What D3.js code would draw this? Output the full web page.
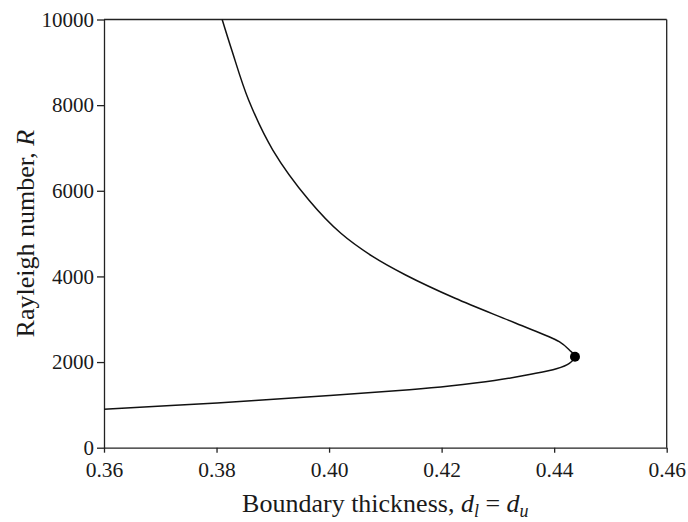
<!DOCTYPE html>
<html>
<head>
<meta charset="utf-8">
<script src="https://cdn.jsdelivr.net/npm/d3@7"></script>
<style>
  html, body { margin: 0; padding: 0; background: #fff; }
  svg { display: block; }
  svg text { font-family: "Liberation Serif", "DejaVu Serif", serif; fill: #1a1a1a; }
</style>
</head>
<body>
<svg id="chart" width="688" height="522"></svg>
<script>
// Data: neutral stability curve (boundary thickness d vs Rayleigh number R)
const upperBranchD = [0.3810, 0.3827, 0.3857, 0.3900, 0.3964, 0.4021, 0.4078, 0.4136, 0.4224, 0.4332, 0.4409, 0.4427, 0.4437];
const upperBranchR = [10000, 9288, 8120, 6952, 5785, 5007, 4461, 4033, 3489, 2905, 2475, 2282, 2125];
const lowerBranchD = [0.4427, 0.4404, 0.4356, 0.4294, 0.4214, 0.4143, 0.4001, 0.3801, 0.3600];
const lowerBranchR = [1971, 1843, 1709, 1569, 1441, 1354, 1217, 1046, 899];
const criticalD = [0.4437];
const criticalR = [2125];
const xTicks = [0.36, 0.38, 0.40, 0.42, 0.44, 0.46];
const yTicks = [0, 2000, 4000, 6000, 8000, 10000];
const xDomain = [0.36, 0.46];
const yDomain = [0, 10000];

const margin = { left: 104, top: 19.5, right: 688 - 666.7, bottom: 522 - 447.7 };
const W = 688, H = 522;
const iw = W - margin.left - margin.right;
const ih = H - margin.top - margin.bottom;
const SERIF = "Liberation Serif, DejaVu Serif, serif";

const svg = d3.select("#chart");
const g = svg.append("g").attr("transform", `translate(${margin.left},${margin.top})`);

const x = d3.scaleLinear().domain(xDomain).range([0, iw]);
const y = d3.scaleLinear().domain(yDomain).range([ih, 0]);

// Frame (top and right borders)
g.append("line").attr("x1", 0).attr("x2", iw).attr("y1", 0).attr("y2", 0)
  .attr("stroke", "#222").attr("stroke-width", 1.3);
g.append("line").attr("x1", iw).attr("x2", iw).attr("y1", 0).attr("y2", ih)
  .attr("stroke", "#222").attr("stroke-width", 1.3);

// Axes
const xAxis = d3.axisBottom(x).tickValues(xTicks).tickFormat(d3.format(".2f"))
  .tickSize(5).tickSizeOuter(0).tickPadding(9);
const yAxis = d3.axisLeft(y).tickValues(yTicks).tickFormat(d3.format("d"))
  .tickSize(7).tickSizeOuter(0).tickPadding(3);

const gx = g.append("g").attr("transform", `translate(0,${ih})`).call(xAxis);
const gy = g.append("g").call(yAxis);
gx.attr("font-family", SERIF).attr("font-size", 21.5);
gy.attr("font-family", SERIF).attr("font-size", 21);
[gx, gy].forEach(ax => {
  ax.select(".domain").attr("stroke", "#222").attr("stroke-width", 1.3);
  ax.selectAll(".tick line").attr("stroke", "#222").attr("stroke-width", 1.3);
  ax.selectAll(".tick text").attr("font-family", SERIF).attr("fill", "#1a1a1a");
});

// Curve
const pts = upperBranchD.map((d, i) => [d, upperBranchR[i]])
  .concat(lowerBranchD.map((d, i) => [d, lowerBranchR[i]]));
const line = d3.line().x(d => x(d[0])).y(d => y(d[1])).curve(d3.curveCatmullRom.alpha(0.5));
g.append("path").datum(pts).attr("d", line)
  .attr("fill", "none").attr("stroke", "#111").attr("stroke-width", 1.5);

// Critical point
g.selectAll("circle.crit").data(criticalD.map((d, i) => [d, criticalR[i]])).enter()
  .append("circle").attr("class", "crit")
  .attr("cx", d => x(d[0])).attr("cy", d => y(d[1])).attr("r", 5).attr("fill", "#000");

// X axis title
const xt = svg.append("text")
  .attr("x", margin.left + iw / 2).attr("y", 512)
  .attr("text-anchor", "middle").attr("font-size", 26).attr("font-family", SERIF);
xt.append("tspan").text("Boundary thickness, ");
xt.append("tspan").attr("font-style", "italic").text("d");
xt.append("tspan").attr("font-style", "italic").attr("font-size", 18).attr("dy", 5).text("l");
xt.append("tspan").attr("dy", -5).text(" = ");
xt.append("tspan").attr("font-style", "italic").text("d");
xt.append("tspan").attr("font-style", "italic").attr("font-size", 18).attr("dy", 5).text("u");

// Y axis title
const yt = svg.append("text")
  .attr("transform", `translate(34,${margin.top + ih / 2}) rotate(-90)`)
  .attr("text-anchor", "middle").attr("font-size", 26).attr("font-family", SERIF);
yt.append("tspan").text("Rayleigh number, ");
yt.append("tspan").attr("font-style", "italic").text("R");
</script>
</body>
</html>
